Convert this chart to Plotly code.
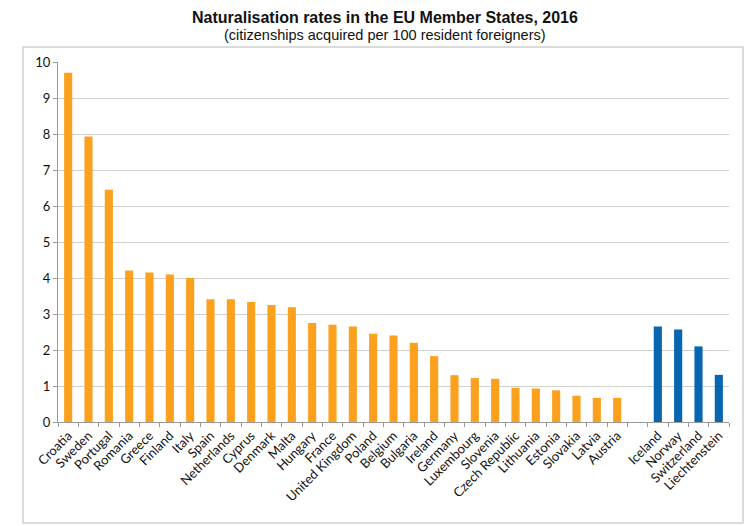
import plotly.graph_objects as go

title_text = "Naturalisation rates in the EU Member States, 2016"
subtitle_text = "(citizenships acquired per 100 resident foreigners)"

eu_countries = ["Croatia", "Sweden", "Portugal", "Romania", "Greece", "Finland", "Italy",
                "Spain", "Netherlands", "Cyprus", "Denmark", "Malta", "Hungary", "France",
                "United Kingdom", "Poland", "Belgium", "Bulgaria", "Ireland", "Germany",
                "Luxembourg", "Slovenia", "Czech Republic", "Lithuania", "Estonia",
                "Slovakia", "Latvia", "Austria"]
eu_values = [9.70, 7.93, 6.45, 4.21, 4.15, 4.10, 4.00,
             3.41, 3.41, 3.33, 3.25, 3.19, 2.75, 2.70,
             2.65, 2.45, 2.40, 2.20, 1.83, 1.30,
             1.22, 1.20, 0.95, 0.93, 0.88,
             0.73, 0.67, 0.67]

efta_countries = ["Iceland", "Norway", "Switzerland", "Liechtenstein"]
efta_values = [2.65, 2.57, 2.10, 1.31]

gap_label = " "
y_ticks = [0, 1, 2, 3, 4, 5, 6, 7, 8, 9, 10]

tick_font = dict(family="Lato, Carlito, Calibri, sans-serif", size=13, color="#111")

fig = go.Figure()
fig.add_trace(go.Bar(x=eu_countries, y=eu_values, marker=dict(color="#FBA11E", line=dict(width=0)),
                     showlegend=False))
fig.add_trace(go.Bar(x=[gap_label], y=[0], marker=dict(color="rgba(0,0,0,0)"),
                     showlegend=False, hoverinfo="skip"))
fig.add_trace(go.Bar(x=efta_countries, y=efta_values, marker=dict(color="#0866B0", line=dict(width=0)),
                     showlegend=False))

fig.update_layout(
    width=750, height=526,
    margin=dict(l=58, r=21, t=62, b=104),
    paper_bgcolor="white", plot_bgcolor="white",
    barmode="overlay", bargap=0.6,
    xaxis=dict(categoryorder="array", categoryarray=eu_countries + [gap_label] + efta_countries,
               tickson="boundaries", ticks="outside", ticklen=4, tickcolor="#999",
               showline=True, linecolor="#999", linewidth=1, tickangle=-45,
               tickfont=tick_font, showgrid=False, range=[-0.5, 32.5]),
    yaxis=dict(range=[0, 10], tickvals=y_ticks, showgrid=True, gridcolor="#CFCFCF", gridwidth=1,
               showline=True, linecolor="#999", linewidth=1, ticks="outside", ticklen=4,
               tickcolor="#999", tickfont=tick_font, zeroline=False),
    shapes=[dict(type="rect", xref="paper", yref="paper", x0=-0.0522, x1=1.0209,
                 y0=-0.2806, y1=1.0417, line=dict(color="#D0D0D0", width=1.5))],
    annotations=[
        dict(text="<b>" + title_text + "</b>", xref="paper", yref="paper",
             x=(385 - 58) / 671, y=(422 - 17) / 360, xanchor="center", yanchor="middle",
             showarrow=False,
             font=dict(family="Liberation Sans Narrow, Arial Narrow, Liberation Sans, Arial", size=16,
                       color="#111")),
        dict(text=subtitle_text, xref="paper", yref="paper",
             x=(385 - 58) / 671, y=(422 - 35) / 360, xanchor="center", yanchor="middle",
             showarrow=False,
             font=dict(family="Liberation Sans Narrow, Arial Narrow, Liberation Sans, Arial", size=14.5,
                       color="#111")),
    ],
)

fig.write_html("out.html")
